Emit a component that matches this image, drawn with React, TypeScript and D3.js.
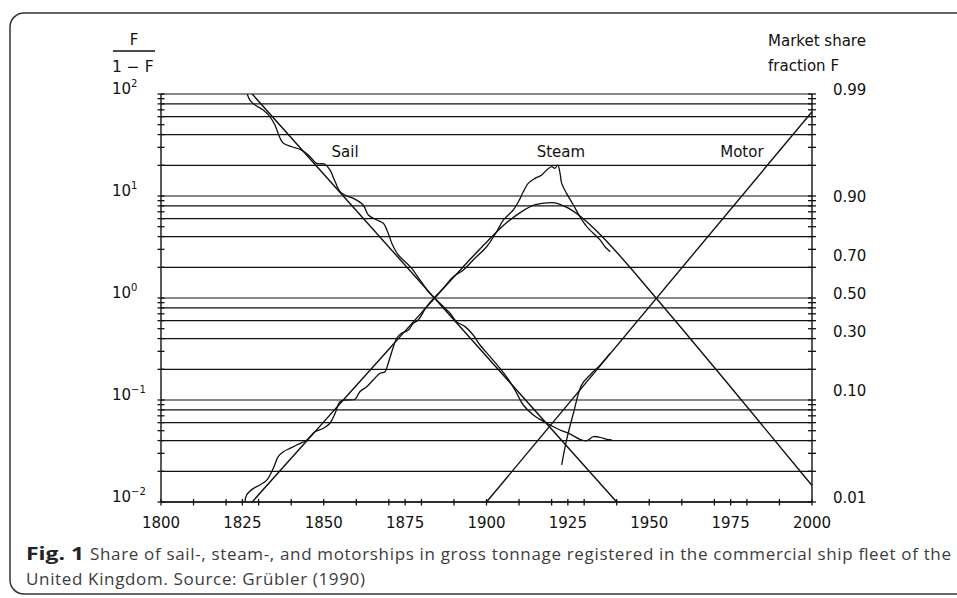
import React from "react";
import * as d3 from "d3";

// ---------- data (F/(1-F) values by year) ----------
const sailYears = [1826.5, 1827.3, 1828.9, 1831.4, 1833.5, 1835.0, 1836.6, 1837.6, 1840.2, 1843.2, 1845.8, 1847.8, 1850.4, 1851.9, 1853.5, 1855.0, 1856.5, 1859.1, 1862.1, 1863.7, 1866.3, 1868.3, 1869.8, 1870.9, 1871.4, 1872.9, 1875.5, 1877.0, 1879.6, 1882.6, 1884.2, 1885.7, 1888.8, 1890.8, 1893.4, 1895.9, 1898.0, 1901.1, 1904.1, 1907.2, 1909.3, 1911.3, 1914.4, 1918.5, 1922.6, 1925.6, 1928.7, 1930.8, 1932.8, 1934.9, 1936.9, 1938.5];
const sailValues = [99.3, 87.3, 78.0, 69.7, 59.8, 49.7, 36.8, 32.9, 30.4, 28.2, 24.3, 20.9, 20.5, 18.0, 13.8, 11.0, 10.2, 9.48, 8.17, 6.52, 5.82, 5.40, 4.31, 3.44, 3.18, 2.64, 2.19, 1.95, 1.50, 1.11, 0.99, 0.887, 0.708, 0.586, 0.524, 0.434, 0.346, 0.266, 0.205, 0.151, 0.116, 0.0893, 0.0713, 0.0592, 0.0508, 0.0465, 0.0412, 0.0399, 0.0437, 0.0431, 0.0412, 0.0406];

const steamYears = [1825.8, 1826.3, 1828.4, 1830.4, 1832.5, 1834.5, 1836.0, 1837.6, 1839.6, 1841.7, 1844.8, 1847.3, 1849.9, 1851.9, 1853.5, 1855.0, 1857.0, 1859.6, 1861.1, 1863.2, 1865.2, 1867.3, 1868.8, 1869.8, 1871.4, 1872.4, 1873.9, 1876.0, 1877.5, 1879.0, 1881.6, 1884.7, 1886.7, 1889.8, 1892.9, 1895.9, 1900.1, 1903.1, 1905.2, 1906.7, 1908.2, 1909.8, 1911.3, 1912.8, 1914.9, 1917.0, 1918.5, 1920.0, 1921.0, 1921.9, 1922.6, 1923.1, 1924.6, 1926.7, 1928.7, 1930.8, 1932.8, 1934.9, 1936.4, 1938.0];
const steamValues = [0.0101, 0.0117, 0.0136, 0.0147, 0.0164, 0.0214, 0.0278, 0.0311, 0.0336, 0.0362, 0.0406, 0.0489, 0.0528, 0.0592, 0.0741, 0.0962, 0.100, 0.1016, 0.1205, 0.135, 0.157, 0.183, 0.189, 0.229, 0.333, 0.403, 0.451, 0.485, 0.565, 0.608, 0.822, 1.07, 1.245, 1.62, 1.88, 2.36, 3.2, 4.45, 5.82, 6.52, 7.29, 8.79, 11.0, 13.3, 14.9, 16.1, 18.0, 19.4, 18.7, 20.1, 16.7, 13.3, 10.6, 8.17, 6.27, 5.00, 4.31, 3.71, 3.18, 2.84];

const motorYears = [1923.1, 1924.6, 1926.7, 1929.2, 1931.8, 1934.9, 1938.0];
const motorValues = [0.0231, 0.0406, 0.0741, 0.140, 0.176, 0.220, 0.288];

// fitted substitution lines
const sailFitYears = [1828, 1940];
const sailFitValues = [100, 0.01];
const motorFitYears = [1900, 2000];
const motorFitValues = [0.01, 67];
const steamFitYears = [1828, 1840, 1850, 1860, 1870, 1880, 1890, 1895, 1900, 1905, 1910, 1915, 1920, 1925, 1930, 1935, 1940, 1950, 1960, 1975, 2000];
const steamFitValues = [0.01, 0.0268, 0.061, 0.1386, 0.315, 0.715, 1.61, 2.40, 3.52, 5.08, 6.76, 8.22, 8.61, 7.64, 5.89, 4.17, 2.81, 1.20, 0.503, 0.134, 0.0145];

// axes
const xTickLabels = [1800, 1825, 1850, 1875, 1900, 1925, 1950, 1975, 2000];
const xMinorTicks = [1800, 1810, 1820, 1825, 1830, 1840, 1850, 1860, 1870, 1875, 1880, 1890, 1900, 1910, 1920, 1925, 1930, 1940, 1950, 1960, 1970, 1975, 1980, 1990, 2000];
const leftExponents = [2, 1, 0, -1, -2];
const rightShares = [0.99, 0.9, 0.7, 0.5, 0.3, 0.1, 0.01];
const rightShareLabels = ["0.99", "0.90", "0.70", "0.50", "0.30", "0.10", "0.01"];
const gridMantissas = [1, 2, 4, 6, 8];
const decades = [-2, -1, 0, 1];

const seriesLabels = [
  { text: "Sail", year: 1852.4, value: 25 },
  { text: "Steam", year: 1915.4, value: 25 },
  { text: "Motor", year: 1971.8, value: 25 },
];

const FONT = "'DejaVu Sans', sans-serif";
const CAP_FONT = "'Open Sans', sans-serif";

export default function App() {
  const x = d3.scaleLinear().domain([1800, 2000]).range([161, 812]);
  const y = d3.scaleLog().domain([0.01, 100]).range([502, 94]);

  const zip = (a: number[], b: number[]) => a.map((v, i) => [v, b[i]] as [number, number]);
  const dataLine = d3
    .line<[number, number]>()
    .x((d) => x(d[0]))
    .y((d) => y(d[1]))
    .curve(d3.curveCatmullRom.alpha(0.5));
  const fitLine = d3
    .line<[number, number]>()
    .x((d) => x(d[0]))
    .y((d) => y(d[1]))
    .curve(d3.curveMonotoneX);

  const gridVals: number[] = [];
  decades.forEach((k) => gridMantissas.forEach((m) => gridVals.push(m * Math.pow(10, k))));
  gridVals.push(100);

  const minorVals: number[] = [];
  decades.forEach((k) => {
    for (let m = 1; m <= 9; m++) minorVals.push(m * Math.pow(10, k));
  });
  minorVals.push(100);

  const x0 = x(1800);
  const x1 = x(2000);
  const yTop = y(100);
  const yBot = y(0.01);
  const stroke = "#111";

  return (
    <svg
      width={957}
      height={598}
      style={{ position: "absolute", left: 0, top: 0, background: "#fff" }}
      fontFamily={FONT}
    >
      <rect x={10} y={13} width={980} height={581} rx={14} ry={14} fill="none" stroke="#333" strokeWidth={1.5} />

      {/* gridlines */}
      {gridVals.map((v, i) => (
        <line key={"g" + i} x1={x0} x2={x1} y1={y(v)} y2={y(v)} stroke={stroke} strokeWidth={1.2} />
      ))}

      {/* axes */}
      <line x1={x0} x2={x0} y1={yTop} y2={yBot} stroke={stroke} strokeWidth={1.4} />
      <line x1={x1} x2={x1} y1={yTop} y2={yBot} stroke={stroke} strokeWidth={1.4} />
      <line x1={x0} x2={x1} y1={yBot} y2={yBot} stroke={stroke} strokeWidth={1.4} />
      {minorVals.map((v, i) => (
        <g key={"t" + i}>
          <line x1={x0 - 3.5} x2={x0 + 3.5} y1={y(v)} y2={y(v)} stroke={stroke} strokeWidth={1.3} />
          <line x1={x1 - 4} x2={x1 + 4} y1={y(v)} y2={y(v)} stroke={stroke} strokeWidth={1.3} />
        </g>
      ))}
      {xMinorTicks.map((t, i) => (
        <line key={"xt" + i} x1={x(t)} x2={x(t)} y1={yBot - 3} y2={yBot + 3.5} stroke={stroke} strokeWidth={1.3} />
      ))}

      {/* x tick labels */}
      {xTickLabels.map((t) => (
        <text key={"xl" + t} x={x(t)} y={528} textAnchor="middle" fontSize={15} fill="#111">
          {t}
        </text>
      ))}

      {/* left labels */}
      {leftExponents.map((e) => (
        <text key={"ll" + e} x={112} y={y(Math.pow(10, e)) - 0.5} fontSize={15} fill="#111">
          10
          <tspan fontSize={10} dy={-7}>
            {e < 0 ? "\u2212" + Math.abs(e) : String(e)}
          </tspan>
        </text>
      ))}

      {/* right labels */}
      {rightShares.map((f, i) => (
        <text key={"rl" + i} x={833} y={y(f / (1 - f)) + 1} fontSize={15} fill="#111">
          {rightShareLabels[i]}
        </text>
      ))}

      {/* axis titles */}
      <text x={134} y={45} textAnchor="middle" fontSize={15} fill="#111">F</text>
      <line x1={113} x2={155} y1={51} y2={51} stroke={stroke} strokeWidth={1.5} />
      <text x={112} y={72} fontSize={15.5} fill="#111">1 {"\u2212"} F</text>
      <text x={768} y={46} fontSize={15} fill="#111">Market share</text>
      <text x={768} y={71} fontSize={15} fill="#111">fraction F</text>

      {/* fitted lines */}
      <path d={fitLine(zip(sailFitYears, sailFitValues)) || ""} fill="none" stroke={stroke} strokeWidth={1.4} />
      <path d={fitLine(zip(motorFitYears, motorFitValues)) || ""} fill="none" stroke={stroke} strokeWidth={1.4} />
      <path d={fitLine(zip(steamFitYears, steamFitValues)) || ""} fill="none" stroke={stroke} strokeWidth={1.4} />

      {/* data lines */}
      <path d={dataLine(zip(sailYears, sailValues)) || ""} fill="none" stroke={stroke} strokeWidth={1.3} />
      <path d={dataLine(zip(steamYears, steamValues)) || ""} fill="none" stroke={stroke} strokeWidth={1.3} />
      <path d={dataLine(zip(motorYears, motorValues)) || ""} fill="none" stroke={stroke} strokeWidth={1.3} />

      {/* series labels */}
      {seriesLabels.map((s) => (
        <text key={s.text} x={x(s.year)} y={157} fontSize={15} fill="#111">
          {s.text}
        </text>
      ))}

      {/* caption */}
      <text x={26} y={560} fontFamily={CAP_FONT} fontSize={17} fontWeight="bold" fill="#222" textLength={58} lengthAdjust="spacingAndGlyphs">
        Fig. 1
      </text>
      <text x={90} y={560} fontFamily={CAP_FONT} fontSize={17} fill="#3c3c3c" textLength={861} lengthAdjust="spacing">
        Share of sail-, steam-, and motorships in gross tonnage registered in the commercial ship fleet of the
      </text>
      <text x={26} y={585} fontFamily={CAP_FONT} fontSize={17} fill="#3c3c3c" textLength={339} lengthAdjust="spacing">
        United Kingdom. Source: Grübler (1990)
      </text>
    </svg>
  );
}
